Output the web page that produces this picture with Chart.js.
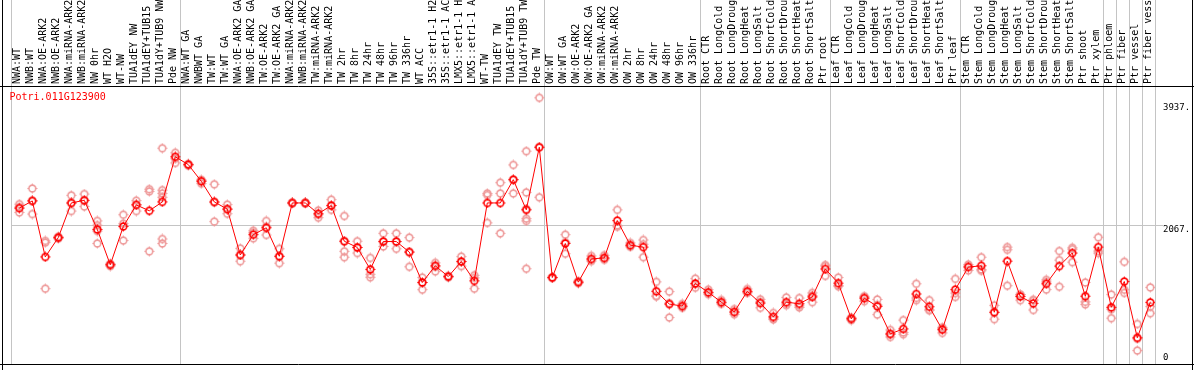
<!DOCTYPE html>
<html>
<head>
<meta charset="utf-8">
<script src="https://cdn.jsdelivr.net/npm/chart.js@4.4.1/dist/chart.umd.min.js"></script>
<style>
  html, body { margin: 0; padding: 0; background: #fff; }
  #wrap { width: 1194px; height: 370px; }
</style>
</head>
<body>
<div id="wrap"><canvas id="chart" width="1194" height="370"></canvas></div>
<script>
// data
const geneName = 'Potri.011G123900';

const labels = [
  'NWA:WT', 'NWB:WT', 'NWA:OE-ARK2', 'NWB:OE-ARK2', 'NWA:miRNA-ARK2', 'NWB:miRNA-ARK2',
  'NW 0hr', 'WT H2O', 'WT-NW', 'TUA1dEY NW', 'TUA1dEY+TUB15 NW', 'TUA1dY+TUB9 NW', 'Pde NW',
  'NWA:WT GA', 'NWBWT GA', 'TW:WT', 'TW:WT GA', 'NWA:OE-ARK2 GA', 'NWB:OE-ARK2 GA',
  'TW:OE-ARK2', 'TW:OE-ARK2 GA', 'NWA:miRNA-ARK2 GA', 'NWB:miRNA-ARK2 GA', 'TW:miRNA-ARK2',
  'TW:miRNA-ARK2 GA', 'TW 2hr', 'TW 8hr', 'TW 24hr', 'TW 48hr', 'TW 96hr', 'TW 336hr',
  'WT ACC', '35S::etr1-1 H2O', '35S::etr1-1 ACC', 'LMX5::etr1-1 H2O', 'LMX5::etr1-1 ACC',
  'WT-TW', 'TUA1dEY TW', 'TUA1dEY+TUB15 TW', 'TUA1dY+TUB9 TW', 'Pde TW',
  'OW:WT', 'OW:WT GA', 'OW:OE-ARK2', 'OW:OE-ARK2 GA', 'OW:miRNA-ARK2', 'OW:miRNA-ARK2 GA',
  'OW 2hr', 'OW 8hr', 'OW 24hr', 'OW 48hr', 'OW 96hr', 'OW 336hr',
  'Root CTR', 'Root LongCold', 'Root LongDrought', 'Root LongHeat', 'Root LongSalt',
  'Root ShortCold', 'Root ShortDrought', 'Root ShortHeat', 'Root ShortSalt', 'Ptr root',
  'Leaf CTR', 'Leaf LongCold', 'Leaf LongDrought', 'Leaf LongHeat', 'Leaf LongSalt',
  'Leaf ShortCold', 'Leaf ShortDrought', 'Leaf ShortHeat', 'Leaf ShortSalt', 'Ptr leaf',
  'Stem CTR', 'Stem LongCold', 'Stem LongDrought', 'Stem LongHeat', 'Stem LongSalt',
  'Stem ShortCold', 'Stem ShortDrought', 'Stem ShortHeat', 'Stem ShortSalt', 'Ptr shoot',
  'Ptr xylem', 'Ptr phloem', 'Ptr fiber', 'Ptr vessel', 'Ptr fiber vessel'
];

// mean expression per sample
const means = [
  2236, 2347, 1484, 1782, 2316, 2357, 1908, 1363, 1953, 2286, 2195, 2332, 3028,
  2907, 2650, 2332, 2221, 1514, 1827, 1933, 1494, 2316, 2316, 2150, 2276,
  1726, 1630, 1292, 1721, 1721, 1559, 1090, 1347, 1181, 1413, 1115,
  2316, 2316, 2675, 2210, 3175,
  1166, 1691, 1095, 1453, 1469, 2044, 1665, 1635, 954, 757, 727, 1075,
  939, 787, 636, 954, 772, 560, 787, 762, 868, 1298,
  1080, 530, 848, 722, 298, 374, 913, 716, 363, 980,
  1328, 1347, 631, 1419, 874, 768, 1070, 1343, 1544, 878,
  1635, 707, 1105, 238, 783
];

// replicate values per sample
const reps = [
  [2297, 2170, 2251], [2539, 2145, 2351], [1731, 1706, 995], [1797, 1782, 1767],
  [2433, 2316, 2191], [2453, 2351, 2261], [2039, 1973, 1882, 1691], [1363, 1343, 1378],
  [2135, 1998, 1737], [2351, 2291, 2191], [2528, 2494, 1570],
  [3160, 2513, 2463, 2403, 1761, 1691], [3089, 2998, 2933],
  [2917, 2892, 2907], [2665, 2614, 2670], [2604, 2327, 2029], [2291, 2221, 2150],
  [1615, 1514, 1418], [1888, 1858, 1771], [2039, 1948, 1822], [1609, 1494, 1388],
  [2310, 2320, 2318], [2310, 2320, 2318], [2200, 2135, 2089], [2367, 2276, 2210],
  [2115, 1726, 1570, 1479], [1726, 1630, 1544], [1469, 1216, 1170], [1847, 1721, 1645],
  [1847, 1721, 1609], [1782, 1559, 1332], [1166, 1090, 979], [1393, 1332, 1262],
  [1191, 1170, 1181], [1489, 1413, 1343], [1201, 1161, 995],
  [2463, 2438, 2009], [2629, 2463, 1847], [2902, 2675, 2463],
  [3114, 2478, 2220, 2074, 2039, 1302], [3937, 3175, 2403],
  [1160, 1170, 1168], [1827, 1534, 1712], [1110, 1080, 1095], [1500, 1420, 1440],
  [1510, 1440, 1460], [2210, 1950, 1970], [1700, 1640, 1655], [1680, 1480, 1745],
  [1100, 880, 880], [950, 550, 770], [760, 700, 720], [1150, 1010, 1065],
  [980, 910, 930], [820, 760, 780], [680, 600, 630], [990, 930, 940], [830, 700, 790],
  [620, 520, 540], [860, 740, 760], [850, 730, 705], [929, 787, 888], [1358, 1191, 1345],
  [1166, 1030, 1045], [550, 510, 530], [878, 802, 864], [828, 595, 743], [358, 288, 250],
  [510, 292, 320], [1070, 818, 851], [818, 666, 665], [398, 313, 378], [1146, 868, 926],
  [1367, 1276, 1341], [1479, 1291, 1271], [737, 525, 631], [1635, 1594, 1040],
  [904, 818, 900], [818, 666, 820], [1131, 980, 1099], [1575, 1434, 1025],
  [1625, 1403, 1604], [1090, 752, 792],
  [1787, 1575, 1543], [904, 540, 677], [1408, 929, 978], [450, 41, 223], [1014, 616, 719]
];

// first sample of each block (vertical separators)
const groupStarts = [0, 13, 41, 53, 63, 73, 84, 85, 86, 87, 88];

// right axis: tick values and the text shown for them
const yTicks = [0, 1968.5, 3846];
const yTickText = ['0', '2067.', '3937.'];

const X_SHIFT = 0.638;
const FONT = 'DejaVu Sans Mono';

function makeMarker(color) {
  const c = document.createElement('canvas');
  c.width = 11; c.height = 11;
  const g = c.getContext('2d');
  g.strokeStyle = color;
  g.lineWidth = 1.6;
  g.beginPath();
  g.arc(5.5, 5.5, 3.4, 0, Math.PI * 2);
  g.stroke();
  g.lineWidth = 1;
  g.beginPath();
  g.moveTo(5.5, 0.5); g.lineTo(5.5, 2);
  g.moveTo(5.5, 9); g.lineTo(5.5, 10.5);
  g.moveTo(0.5, 5.5); g.lineTo(2, 5.5);
  g.moveTo(9, 5.5); g.lineTo(10.5, 5.5);
  g.stroke();
  return c;
}

const redMarker = makeMarker('#ff0000');
const pinkMarker = makeMarker('#ee9a9a');

const meanPoints = means.map((v, i) => ({ x: i, y: v }));
const repPoints = [];
reps.forEach((list, i) => list.forEach(v => repPoints.push({ x: i, y: v })));

// frame + gene name
const framePlugin = {
  id: 'frame',
  afterDraw(chart) {
    const ctx = chart.ctx;
    const a = chart.chartArea;
    ctx.save();
    ctx.strokeStyle = '#000';
    ctx.lineWidth = 1;
    ctx.beginPath();
    ctx.moveTo(0, a.top + 0.5); ctx.lineTo(chart.width, a.top + 0.5);
    ctx.moveTo(0, a.bottom + 0.5); ctx.lineTo(chart.width, a.bottom + 0.5);
    ctx.moveTo(2.5, 0); ctx.lineTo(2.5, chart.height);
    ctx.moveTo(chart.width - 1.5, 0); ctx.lineTo(chart.width - 1.5, chart.height);
    ctx.stroke();
    ctx.fillStyle = '#ff0000';
    ctx.font = '10px "' + FONT + '"';
    ctx.textAlign = 'left';
    ctx.textBaseline = 'middle';
    ctx.fillText(geneName, 9.5, a.top + 11);
    ctx.restore();
  }
};

new Chart(document.getElementById('chart'), {
  type: 'scatter',
  data: {
    datasets: [
      {
        type: 'line',
        data: meanPoints,
        xAxisID: 'x',
        borderColor: '#ff0000',
        borderWidth: 1,
        pointStyle: redMarker,
        pointRadius: 5,
        tension: 0
      },
      {
        data: repPoints,
        xAxisID: 'x',
        pointStyle: pinkMarker,
        pointRadius: 5,
        showLine: false
      }
    ]
  },
  options: {
    responsive: false,
    animation: false,
    devicePixelRatio: 1,
    layout: { padding: { left: 11, right: 0, top: 0, bottom: 1 } },
    plugins: {
      legend: { display: false },
      tooltip: { enabled: false }
    },
    scales: {
      x: {
        type: 'linear',
        position: 'top',
        weight: 0,
        min: -X_SHIFT,
        max: 88 - X_SHIFT,
        afterBuildTicks: s => { s.ticks = groupStarts.map(v => ({ value: v - X_SHIFT })); },
        afterFit: s => { s.height = 0; },
        ticks: { display: false },
        border: { display: false },
        grid: { color: '#c4c4c4', lineWidth: 1, drawTicks: true, tickLength: 86 }
      },
      xl: {
        type: 'linear',
        position: 'top',
        weight: 1,
        min: -X_SHIFT,
        max: 88 - X_SHIFT,
        afterBuildTicks: s => { s.ticks = labels.map((l, i) => ({ value: i })); },
        afterFit: s => { s.height = 86; },
        border: { display: false },
        grid: { display: false, drawTicks: false },
        ticks: {
          autoSkip: false,
          minRotation: 90,
          maxRotation: 90,
          padding: 2,
          labelOffset: 10,
          color: '#000',
          font: { family: FONT, size: 10 },
          callback: v => labels[v]
        }
      },
      y: {
        type: 'linear',
        position: 'right',
        min: -166.6,
        max: 4118.7,
        afterBuildTicks: s => { s.ticks = yTicks.map(v => ({ value: v })); },
        afterFit: s => { s.width = 39; },
        border: { display: false },
        grid: {
          color: c => (c.tick && c.tick.value === yTicks[1]) ? '#c4c4c4' : 'rgba(0,0,0,0)',
          drawTicks: true,
          tickLength: 8
        },
        ticks: {
          padding: 0,
          labelOffset: 4,
          color: '#000',
          font: { family: FONT, size: 9 },
          callback: (v, i) => yTickText[i]
        }
      }
    }
  },
  plugins: [framePlugin]
});
</script>
</body>
</html>
